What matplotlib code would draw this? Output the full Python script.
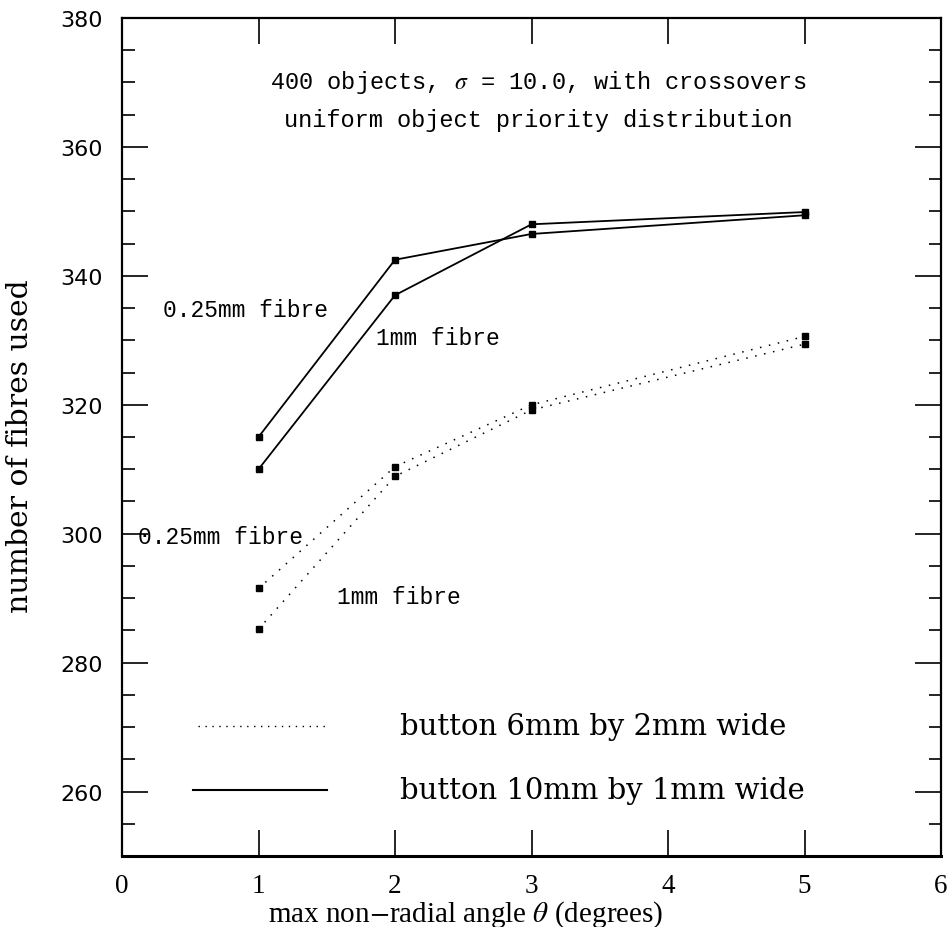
import numpy as np
import matplotlib
matplotlib.use('Agg')
import matplotlib.pyplot as plt
from matplotlib.ticker import MultipleLocator, FixedLocator

# data
angles = [1, 2, 3, 5]
solid_025 = [315.0, 342.5, 346.5, 349.4]   # button 10mm x 1mm, 0.25mm fibre
solid_1mm = [310.0, 337.0, 348.0, 349.9]   # button 10mm x 1mm, 1mm fibre
dotted_025 = [291.5, 310.4, 320.0, 330.6]  # button 6mm x 2mm, 0.25mm fibre
dotted_1mm = [285.2, 308.9, 319.2, 329.4]  # button 6mm x 2mm, 1mm fibre

xticks = [0, 1, 2, 3, 4, 5, 6]
yticks = [260, 280, 300, 320, 340, 360, 380]

plt.rcParams['mathtext.fontset'] = 'stix'

serif = 'Liberation Serif'
plot_font = 'Liberation Mono'
key_font = 'DejaVu Serif'

fig = plt.figure(figsize=(9.51, 9.28), dpi=100)
ax = fig.add_axes([0.1283, 0.0765, 0.8612, 0.903])

dots = (0, (1, 5))
ax.plot(angles, solid_025, '-', color='black', lw=1.3, marker='s', ms=5)
ax.plot(angles, solid_1mm, '-', color='black', lw=1.3, marker='s', ms=5)
ax.plot(angles, dotted_025, color='black', lw=1.1, ls=dots, marker='s', ms=5)
ax.plot(angles, dotted_1mm, color='black', lw=1.1, ls=dots, marker='s', ms=5)

ax.set_xlim(0, 6)
ax.set_ylim(250, 380)

# ticks inside, mirrored on all sides
ax.xaxis.set_major_locator(FixedLocator(xticks))
ax.yaxis.set_major_locator(FixedLocator(yticks))
ax.yaxis.set_minor_locator(MultipleLocator(5))
ax.tick_params(axis='both', which='major', direction='in', length=19, width=1.2,
               top=True, right=True)
ax.tick_params(axis='y', which='minor', direction='in', length=9, width=1.2,
               right=True)
ax.tick_params(axis='y', which='major', pad=14, labelsize=16)
ax.tick_params(axis='x', which='major', pad=12, labelsize=19.5)
for lab in ax.get_xticklabels():
    lab.set_family(serif)
for lab in ax.get_yticklabels():
    lab.set_family('DejaVu Sans')
for sp in ax.spines.values():
    sp.set_linewidth(1.6)
ax.spines['bottom'].set_linewidth(2.2)

ax.set_xlabel(r'max non$-$radial angle $\theta$ (degrees)', fontsize=21,
              family=serif)
ax.xaxis.set_label_coords(0.42, -0.05)
ax.set_ylabel('number of fibres used', fontsize=21.5, family=key_font)
ax.yaxis.set_label_coords(-0.108, 0.49)

# annotations
ax.text(3.05, 370.1, r'400 objects, $\sigma$ = 10.0, with crossovers',
        ha='center', va='center', fontsize=17, family=plot_font)
ax.text(3.05, 364.2, 'uniform object priority distribution',
        ha='center', va='center', fontsize=17, family=plot_font)
ax.text(0.3, 334.8, '0.25mm fibre', ha='left', va='center', fontsize=16.5,
        family=plot_font)
ax.text(1.86, 330.4, '1mm fibre', ha='left', va='center', fontsize=16.5,
        family=plot_font)
ax.text(0.12, 299.6, '0.25mm fibre', ha='left', va='center', fontsize=16.5,
        family=plot_font)
ax.text(1.575, 290.2, '1mm fibre', ha='left', va='center', fontsize=16.5,
        family=plot_font)

# hand drawn key
ax.plot([0.56, 1.5], [270.2, 270.2], color='black', lw=1.0, ls=(0, (1, 4)))
ax.plot([0.52, 1.5], [260.3, 260.3], color='black', lw=1.5)
ax.text(2.04, 270.2, 'button 6mm by 2mm wide', ha='left', va='center',
        fontsize=21, family=key_font)
ax.text(2.04, 260.3, 'button 10mm by 1mm wide', ha='left', va='center',
        fontsize=21, family=key_font)

fig.savefig('out.png', dpi=100)
